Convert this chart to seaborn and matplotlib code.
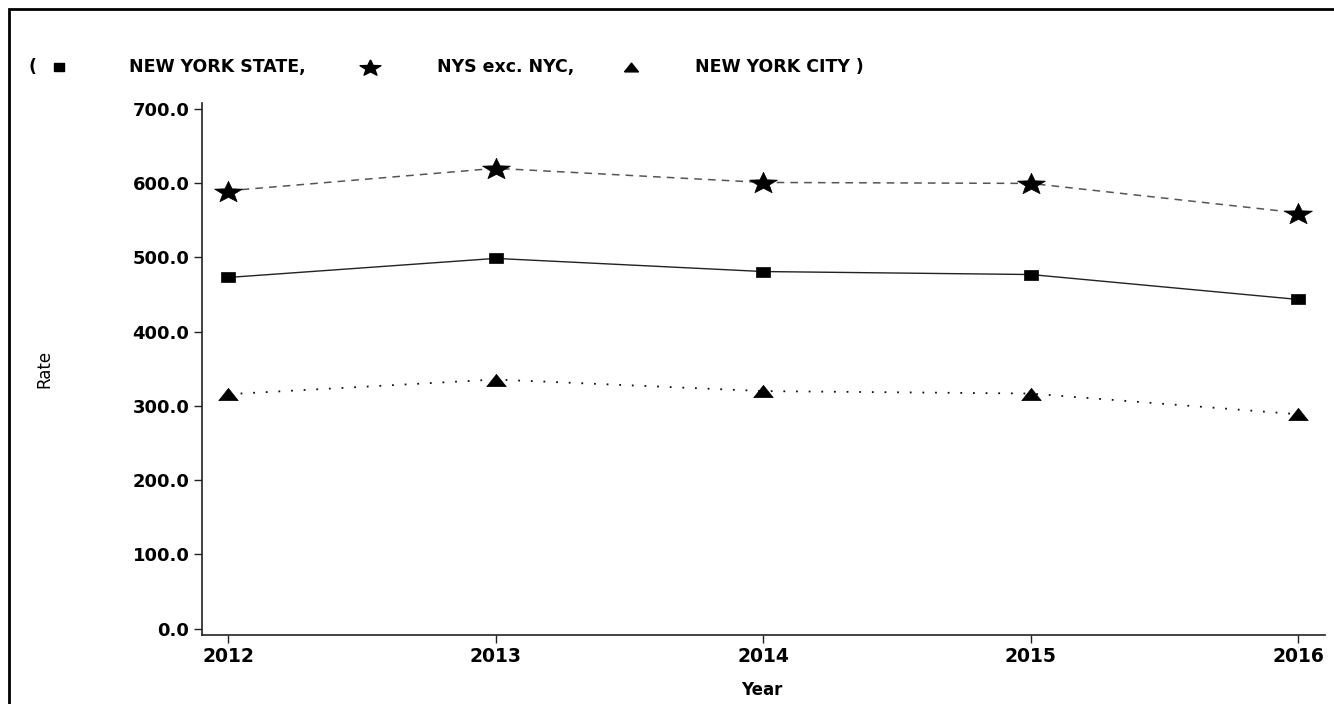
import matplotlib
matplotlib.use("Agg")
import matplotlib.pyplot as plt
import seaborn as sns
import numpy as np
import pandas as pd
from matplotlib.patches import Rectangle

sns.set_style("white")
plt.rcParams['font.family'] = ['DejaVu Sans']
plt.rcParams['text.color'] = 'black'
plt.rcParams['xtick.color'] = 'black'
plt.rcParams['ytick.color'] = 'black'

years = [2012, 2013, 2014, 2015, 2016]
nys = [473.0, 498.7, 481.0, 477.0, 443.4]
nys_exc_nyc = [589.8, 620.0, 601.0, 599.7, 560.0]
nyc = [315.8, 335.6, 320.0, 316.7, 288.8]
series_names = ["NEW YORK STATE", "NYS exc. NYC", "NEW YORK CITY"]

df = pd.DataFrame({
    "Year": years * 3,
    "Rate": nys + nys_exc_nyc + nyc,
    "Region": [series_names[0]] * 5 + [series_names[1]] * 5 + [series_names[2]] * 5,
})

# the reference markers are a bit stretched sideways
rect = [(-1.35, -1), (1.35, -1), (1.35, 1), (-1.35, 1), (-1.35, -1)]
tri = [(-1, -0.63), (1, -0.63), (0, 0.63), (-1, -0.63)]
ang = np.pi / 2 + np.arange(10) * np.pi / 5
rad = np.where(np.arange(10) % 2 == 0, 1.0, 0.42)
star = list(zip(1.3 * rad * np.cos(ang), rad * np.sin(ang) - 0.1))
star.append(star[0])

styles = {
    series_names[0]: dict(ls="-", marker=rect, ms=10.5, color="#222222", lw=1.0),
    series_names[1]: dict(ls=(0, (5, 4)), marker=star, ms=20, color="#555555", lw=1.1),
    series_names[2]: dict(ls=(0, (1, 6)), marker=tri, ms=14, color="#111111", lw=1.3),
}

fig = plt.figure(figsize=(13.34, 7.04), dpi=100)
ax = fig.add_axes([202 / 1334, 1 - 635 / 704, (1325 - 202) / 1334, (635 - 103) / 704])

for name in series_names:
    st = styles[name]
    sns.lineplot(data=df[df["Region"] == name], x="Year", y="Rate", ax=ax,
                 color=st["color"], linestyle=st["ls"], linewidth=st["lw"],
                 marker=st["marker"], markersize=st["ms"],
                 markerfacecolor="black", markeredgecolor="black",
                 markeredgewidth=0.5, legend=False)

ax.set_xlim(2011.903, 2016.1)
ax.set_ylim(-8.5, 708)
ax.set_xticks(years)
ax.set_xticklabels([str(y) for y in years], fontsize=13.5, fontweight="bold")
yt = [0, 100, 200, 300, 400, 500, 600, 700]
ax.set_yticks(yt)
ax.set_yticklabels([f"{v:.1f}" for v in yt], fontsize=13, fontweight="bold")
ax.tick_params(axis="both", direction="out", length=6, width=1, color="#222222",
               bottom=True, left=True, pad=3)
for s in ["top", "right"]:
    ax.spines[s].set_visible(False)
for s in ["left", "bottom"]:
    ax.spines[s].set_color("#222222")
    ax.spines[s].set_linewidth(1.2)

ax.set_xlabel("")
ax.set_ylabel("")
fig.text(762 / 1334, 1 - 690 / 704, "Year", ha="center", va="center",
         fontsize=12, fontweight="bold")
fig.text(44 / 1334, 1 - 369 / 704, "Rate", ha="center", va="center",
         rotation=90, fontsize=12)

# custom legend line
ly = 1 - 67 / 704
lkw = dict(ha="center", va="center", fontsize=12.5, fontweight="bold")
fig.text(33 / 1334, ly, "(", **lkw)
fig.text(217 / 1334, ly, series_names[0] + ",", **lkw)
fig.text(506 / 1334, ly, series_names[1] + ",", **lkw)
fig.text(779 / 1334, ly, series_names[2] + " )", **lkw)
for xp, name, ms in [(59, series_names[0], 7.5), (370, series_names[1], 15), (631, series_names[2], 10)]:
    fig.lines.append(plt.Line2D([xp / 1334], [ly], transform=fig.transFigure,
                                marker=styles[name]["marker"], ms=ms, ls="none",
                                color="black"))

# outer frame (left and top edges visible)
fig.patches.append(Rectangle((9 / 1334, -0.05), 1.2, 1 - 9 / 704 + 0.05,
                             transform=fig.transFigure, fill=False,
                             edgecolor="black", linewidth=2))

fig.savefig("out.png", dpi=100)
